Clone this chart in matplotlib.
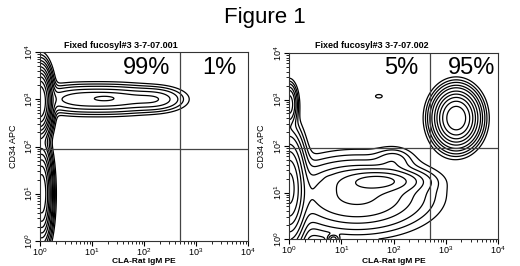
import numpy as np
import matplotlib
matplotlib.use("Agg")
import matplotlib.pyplot as plt
from matplotlib.ticker import LogLocator, FixedLocator, NullFormatter

plt.rcParams['font.family'] = ['Liberation Sans', 'DejaVu Sans']
plt.rcParams['mathtext.fontset'] = 'custom'
plt.rcParams['mathtext.rm'] = 'Liberation Sans'
plt.rcParams['mathtext.it'] = 'Liberation Sans'
plt.rcParams['mathtext.bf'] = 'Liberation Sans:bold'

title = "Figure 1"
panel_titles = ["Fixed fucosyl#3 3-7-07.001", "Fixed fucosyl#3 3-7-07.002"]
xlabel = "CLA-Rat IgM PE"
ylabel = "CD34 APC"
quad_left = ["99%", "5%"]
quad_right = ["1%", "95%"]
gate_x = [490, 490]
gate_y = [89, 89]
tick_vals = [1, 10, 100, 1000, 10000]
tick_labels = [r"$10^0$", r"$10^1$", r"$10^2$", r"$10^3$", r"$10^4$"]

# population blobs in log10 space: centre x, centre y, spread x, spread y, weight
blobs_a_cx = [0.00, 0.70, 1.50, 2.25, 1.25, 0.03]
blobs_a_cy = [2.95, 3.00, 3.00, 3.00, 3.02, 1.00]
blobs_a_sx = [0.10, 0.45, 0.45, 0.30, 0.15, 0.09]
blobs_a_sy = [0.32, 0.16, 0.16, 0.14, 0.04, 0.45]
blobs_a_w = [10.0, 0.45, 0.45, 0.30, 0.25, 6.0]

blobs_b_cx = [3.20, 0.00, 1.72, 0.00, 1.30, 1.75, 0.85, 0.78, 2.00]
blobs_b_cy = [2.60, 2.90, 3.07, 1.10, 0.95, 1.25, 0.00, 1.27, 1.70]
blobs_b_sx = [0.20, 0.08, 0.06, 0.15, 0.70, 0.42, 0.06, 0.05, 0.20]
blobs_b_sy = [0.28, 0.22, 0.035, 0.55, 0.40, 0.13, 0.05, 0.04, 0.15]
blobs_b_w = [6.0, 1.0, 0.07, 3.0, 0.8, 0.9, 0.3, 0.15, 0.15]

levels_rel = [0.04, 0.08, 0.14, 0.25, 0.4, 0.7, 1.1, 1.7, 2.6, 4.0, 6.0]

W, H = 520, 266
fig = plt.figure(figsize=(5.2, 2.66), dpi=100)
fig.text(265 / W, 1 - 18 / H, title, ha='center', va='center', fontsize=16)

axes_px = [[40, 52, 248, 241], [289, 53, 498, 239]]
title_cx = [121, 372]
pct_left_right = [170, 418]
pct_right_right = [236, 495]
blob_sets = [(blobs_a_cx, blobs_a_cy, blobs_a_sx, blobs_a_sy, blobs_a_w),
             (blobs_b_cx, blobs_b_cy, blobs_b_sx, blobs_b_sy, blobs_b_w)]

lx = np.linspace(0, 4, 400)
LX, LY = np.meshgrid(lx, lx)
for i in range(2):
    x0, y0, x1, y1 = axes_px[i]
    ax = fig.add_axes([x0 / W, 1 - y1 / H, (x1 - x0) / W, (y1 - y0) / H])
    cx, cy, sx, sy, w = blob_sets[i]
    Z = np.zeros_like(LX)
    for j in range(len(cx)):
        Z += w[j] * np.exp(-0.5 * (((LX - cx[j]) / sx[j]) ** 2 + ((LY - cy[j]) / sy[j]) ** 2))
    ax.contour(10 ** LX, 10 ** LY, Z, levels=levels_rel, colors='black', linewidths=0.9)
    ax.set_xscale('log')
    ax.set_yscale('log')
    ax.set_xlim(1, 10000)
    ax.set_ylim(1, 10000)
    ax.axvline(gate_x[i], color='#444444', lw=0.9)
    ax.axhline(gate_y[i], color='#444444', lw=0.9)
    ax.xaxis.set_major_locator(FixedLocator(tick_vals))
    ax.yaxis.set_major_locator(FixedLocator(tick_vals))
    ax.set_xticklabels(tick_labels, fontsize=6.5)
    ax.set_yticklabels(tick_labels, fontsize=6.5, rotation=90, va='center')
    ax.xaxis.set_minor_locator(LogLocator(base=10, subs=np.arange(2, 10), numticks=20))
    ax.yaxis.set_minor_locator(LogLocator(base=10, subs=np.arange(2, 10), numticks=20))
    ax.xaxis.set_minor_formatter(NullFormatter())
    ax.yaxis.set_minor_formatter(NullFormatter())
    ax.tick_params(which='major', length=3.5, width=0.8, pad=0)
    ax.tick_params(which='minor', length=2, width=0.6)
    for s in ax.spines.values():
        s.set_linewidth(0.8)
        s.set_color('#333333')
    fig.text(title_cx[i] / W, 1 - 45 / H, panel_titles[i], ha='center', va='center',
             fontsize=6.5, fontweight='bold')
    fig.text((x0 + x1) / 2 / W, 1 - 261.5 / H, xlabel, ha='center', va='center',
             fontsize=6, fontweight='bold')
    fig.text((x0 - 27) / W, 1 - (y0 + y1) / 2 / H, ylabel, ha='center', va='center',
             fontsize=6.5, rotation=90)
    fig.text(pct_left_right[i] / W, 1 - 68 / H, quad_left[i], ha='right', va='center', fontsize=17)
    fig.text(pct_right_right[i] / W, 1 - 68 / H, quad_right[i], ha='right', va='center', fontsize=17)

fig.savefig("out.png", dpi=100)
